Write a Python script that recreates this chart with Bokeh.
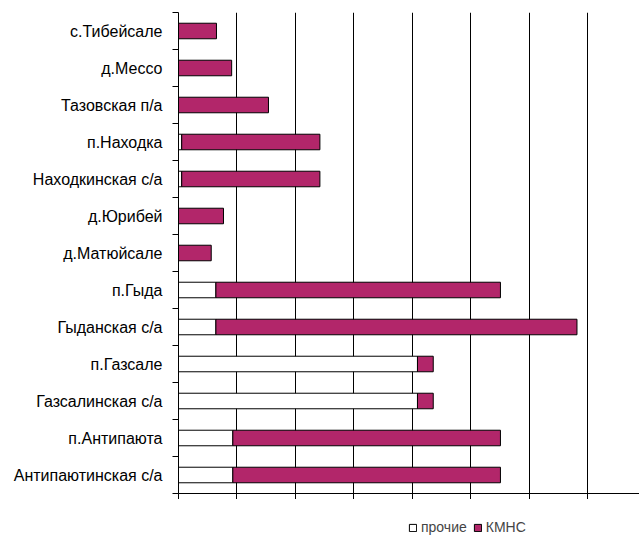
from bokeh.plotting import figure
from bokeh.models import (Range1d, LinearAxis, FixedTicker, Legend, LegendItem,
                          ColumnDataSource)
from bokeh.layouts import column
from bokeh.embed import file_html
from bokeh.resources import INLINE

# ---- data (top to bottom as in the chart) ----
categories = ["с.Тибейсале", "д.Мессо", "Тазовская п/а", "п.Находка",
              "Находкинская с/а", "д.Юрибей", "д.Матюйсале", "п.Гыда",
              "Гыданская с/а", "п.Газсале", "Газсалинская с/а",
              "п.Антипаюта", "Антипаютинская с/а"]
prochie = [0, 0, 0, 5.5, 5.5, 0, 0, 64, 64, 409, 409, 93, 93]
kmns = [65, 91, 154, 236.5, 236.5, 77, 56, 487, 618, 27, 27, 458, 458]
series_names = ["прочие", "КМНС"]
x_ticks = [0, 100, 200, 300, 400, 500, 600, 700]

PURPLE = "#B2266A"
FONT = "Liberation Sans"

n = len(categories)
ypos = [n - i - 0.5 for i in range(n)]          # category centres, top first
source = ColumnDataSource(dict(y=ypos, prochie=prochie, kmns=kmns))

p = figure(y_range=Range1d(0, n), x_range=Range1d(0, 789),
           width=639, height=499, output_backend="svg", toolbar_location=None,
           min_border_left=178, min_border_top=12, min_border_right=0, min_border_bottom=0)
p.outline_line_color = None

rs = p.hbar_stack(["prochie", "kmns"], y="y", height=0.42, source=source,
                  fill_color=["white", PURPLE], line_color="black", line_width=1)

# x axis: ticks at grid lines, no labels
xt = FixedTicker(ticks=x_ticks)
p.xaxis.ticker = xt
p.xaxis.major_label_text_font_size = "1px"
p.xaxis.major_label_text_alpha = 0
p.xaxis.major_label_standoff = 0
p.xaxis.major_tick_out = 6
p.xaxis.major_tick_in = 0
p.xaxis.minor_tick_line_color = None
p.xaxis.axis_line_color = "black"
p.xaxis.major_tick_line_color = "black"
p.xgrid.ticker = xt
p.xgrid.grid_line_color = "black"
p.xgrid.grid_line_width = 1
p.ygrid.visible = False

# y axis: ticks between categories
p.yaxis.ticker = FixedTicker(ticks=list(range(n + 1)))
p.yaxis.major_label_text_font_size = "1px"
p.yaxis.major_label_text_alpha = 0
p.yaxis.major_label_standoff = 0
p.yaxis.major_tick_out = 6
p.yaxis.major_tick_in = 0
p.yaxis.minor_tick_line_color = None
p.yaxis.axis_line_color = "black"
p.yaxis.major_tick_line_color = "black"

# category labels at centres
label_axis = LinearAxis(ticker=FixedTicker(ticks=ypos),
                        major_label_overrides={y: c for y, c in zip(ypos, categories)},
                        major_tick_line_color=None, minor_tick_line_color=None,
                        axis_line_color=None, major_label_standoff=4,
                        major_label_text_font=FONT,
                        major_label_text_font_size="16px",
                        major_label_text_color="black")
p.add_layout(label_axis, "left")

# legend strip below the chart (placeholder bars lie outside its visible range)
lg = figure(width=639, height=37, output_backend="svg", toolbar_location=None,
            x_range=Range1d(0, 1), y_range=Range1d(0, 1),
            min_border_left=0, min_border_right=0, min_border_top=0, min_border_bottom=0,
            x_axis_location=None, y_axis_location=None)
lg.outline_line_color = None
lg.grid.visible = False
hidden = ColumnDataSource(dict(y=[10], left=[10], right=[11]))
d0 = lg.hbar(y="y", left="left", right="right", height=0.5, source=hidden,
             fill_color="white", line_color="black")
d1 = lg.hbar(y="y", left="left", right="right", height=0.5, source=hidden,
             fill_color=PURPLE, line_color="black")
legend = Legend(items=[LegendItem(label=series_names[0], renderers=[d0]),
                       LegendItem(label=series_names[1], renderers=[d1])],
                orientation="horizontal", location=(230, 1),
                padding=0, margin=0, border_line_color=None,
                background_fill_alpha=0,
                glyph_width=9, glyph_height=9, label_standoff=4, spacing=6,
                label_text_font=FONT, label_text_font_size="14px",
                label_height=15)
lg.add_layout(legend)

layout = column(p, lg, spacing=0)
open("out.html", "w").write(file_html(layout, INLINE))
